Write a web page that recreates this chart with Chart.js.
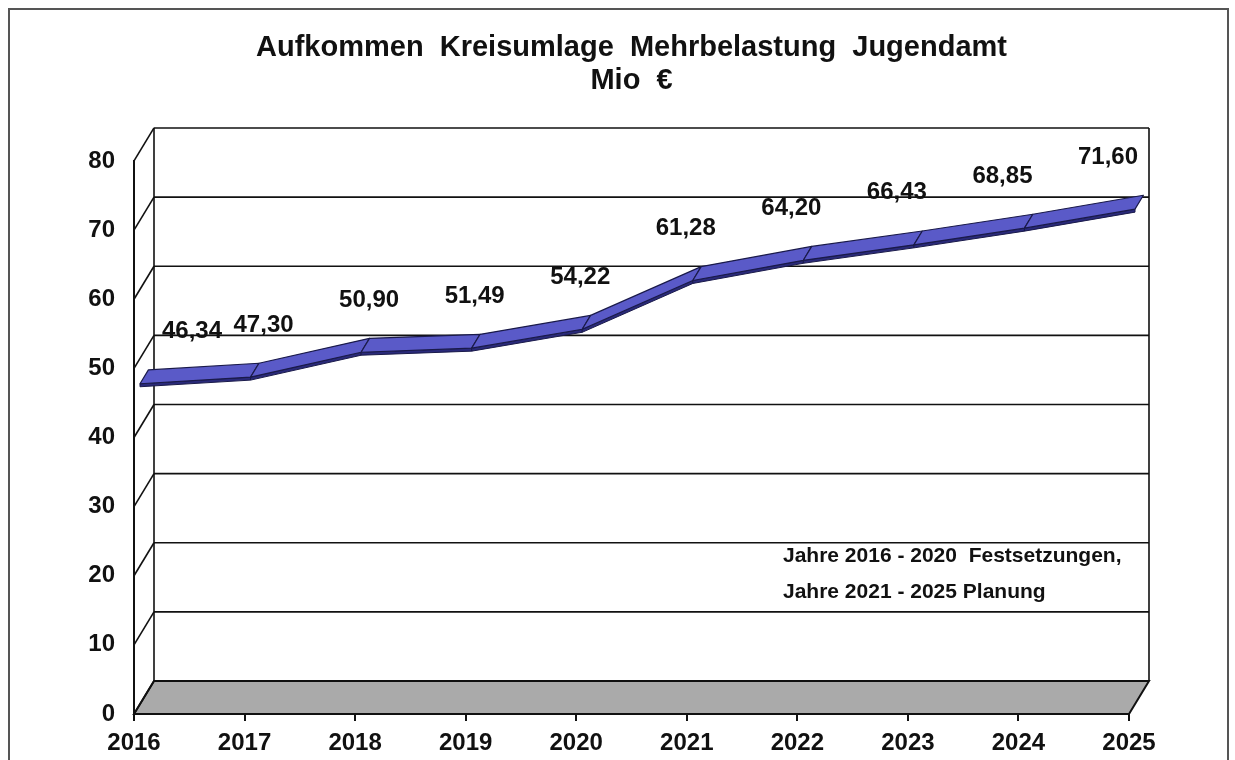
<!DOCTYPE html>
<html>
<head>
<meta charset="utf-8">
<script src="https://cdn.jsdelivr.net/npm/chart.js@4.4.1/dist/chart.umd.min.js"></script>
<style>
  html, body { margin: 0; padding: 0; background: #fff; }
  #wrap { width: 1235px; height: 760px; position: relative; }
</style>
</head>
<body>
<div id="wrap"><canvas id="chart1" width="1235" height="760"></canvas></div>
<script>
// Daten
const years = ['2016', '2017', '2018', '2019', '2020', '2021', '2022', '2023', '2024', '2025'];
const values = [46.34, 47.30, 50.90, 51.49, 54.22, 61.28, 64.20, 66.43, 68.85, 71.60];
const titleLines = ['Aufkommen  Kreisumlage  Mehrbelastung  Jugendamt', 'Mio  €'];
const noteLines = ['Jahre 2016 - 2020  Festsetzungen,', 'Jahre 2021 - 2025 Planung'];
const yMin = 0, yMax = 80, yStep = 10;

const FONT = "'Liberation Sans', Arial, sans-serif";
// 3D-Tiefe (Versatz der Rückwand)
const DX = 20, DY = -33;

const threeD = {
  id: 'threeD',
  beforeDraw(chart) {
    const ctx = chart.ctx;
    const a = chart.chartArea;
    const ys = chart.scales.y;
    ctx.save();
    // Rahmen
    ctx.strokeStyle = '#555';
    ctx.lineWidth = 2;
    ctx.strokeRect(9, 9, 1219, 800);

    // Boden
    ctx.fillStyle = '#aaaaaa';
    ctx.beginPath();
    ctx.moveTo(a.left, a.bottom);
    ctx.lineTo(a.right, a.bottom);
    ctx.lineTo(a.right + DX, a.bottom + DY);
    ctx.lineTo(a.left + DX, a.bottom + DY);
    ctx.closePath();
    ctx.fill();
    ctx.strokeStyle = '#111';
    ctx.lineWidth = 2;
    ctx.stroke();

    // Rückwand + Gitterlinien + Seitenwand
    ctx.lineWidth = 1.6;
    ctx.strokeStyle = '#111';
    for (let v = yMin; v <= yMax; v += yStep) {
      const y = ys.getPixelForValue(v);
      ctx.beginPath();
      ctx.moveTo(a.left + DX, y + DY);
      ctx.lineTo(a.right + DX, y + DY);
      ctx.stroke();
      ctx.beginPath();
      ctx.moveTo(a.left, y);
      ctx.lineTo(a.left + DX, y + DY);
      ctx.stroke();
    }
    ctx.beginPath();
    ctx.moveTo(a.left + DX, a.top + DY);
    ctx.lineTo(a.left + DX, a.bottom + DY);
    ctx.moveTo(a.right + DX, a.top + DY);
    ctx.lineTo(a.right + DX, a.bottom + DY);
    ctx.stroke();

    // Hinweistext
    ctx.fillStyle = '#111';
    ctx.font = 'bold 21px ' + FONT;
    ctx.textAlign = 'left';
    ctx.textBaseline = 'middle';
    ctx.fillText(noteLines[0], 783, 556);
    ctx.fillText(noteLines[1], 783, 592);
    ctx.restore();
  },
  afterDatasetsDraw(chart) {
    const ctx = chart.ctx;
    const a = chart.chartArea;
    const pts = chart.getDatasetMeta(0).data;
    const f = (p, t) => ({ x: p.x + DX * t, y: p.y + DY * t });
    const T1 = 0.3, T2 = 0.72, TH = 3;
    ctx.save();
    ctx.lineJoin = 'round';
    for (let i = 0; i < pts.length - 1; i++) {
      const a1 = f(pts[i], T1), b1 = f(pts[i + 1], T1);
      const a2 = f(pts[i], T2), b2 = f(pts[i + 1], T2);
      // Vorderkante
      ctx.beginPath();
      ctx.moveTo(a1.x, a1.y);
      ctx.lineTo(b1.x, b1.y);
      ctx.lineTo(b1.x, b1.y + TH);
      ctx.lineTo(a1.x, a1.y + TH);
      ctx.closePath();
      ctx.fillStyle = '#2a2a7a';
      ctx.fill();
      ctx.strokeStyle = '#1a1a4a';
      ctx.lineWidth = 1;
      ctx.stroke();
      // Oberseite
      ctx.beginPath();
      ctx.moveTo(a1.x, a1.y);
      ctx.lineTo(b1.x, b1.y);
      ctx.lineTo(b2.x, b2.y);
      ctx.lineTo(a2.x, a2.y);
      ctx.closePath();
      ctx.fillStyle = '#5a5ac8';
      ctx.fill();
      ctx.strokeStyle = '#1a1a4a';
      ctx.lineWidth = 1.2;
      ctx.stroke();
    }
    // Datenbeschriftungen (innerhalb der Rückwand gehalten)
    ctx.fillStyle = '#111';
    ctx.font = 'bold 24px ' + FONT;
    ctx.textAlign = 'center';
    ctx.textBaseline = 'middle';
    pts.forEach((p, i) => {
      const txt = values[i].toFixed(2).replace('.', ',');
      const w = ctx.measureText(txt).width;
      let lx = p.x + 24 - 5 * i;
      lx = Math.max(lx, a.left + DX + 8 + w / 2);
      lx = Math.min(lx, a.right + DX - 6 - w / 2);
      ctx.fillText(txt, lx, p.y - 62);
    });
    ctx.restore();
  }
};

const ctx = document.getElementById('chart1').getContext('2d');
const chart = new Chart(ctx, {
  type: 'line',
  data: {
    labels: years,
    datasets: [{
      label: 'Mehrbelastung Jugendamt',
      data: values,
      showLine: false,
      pointRadius: 0,
      borderWidth: 0
    }]
  },
  options: {
    responsive: false,
    animation: false,
    layout: { padding: { left: 0, right: 106, top: 0, bottom: 0 } },
    plugins: {
      legend: { display: false },
      tooltip: { enabled: false },
      title: {
        display: true,
        fullSize: false,
        text: titleLines,
        color: '#111',
        font: { family: FONT, size: 29, weight: 'bold', lineHeight: 1.12 },
        padding: { top: 32, bottom: 64 }
      }
    },
    scales: {
      x: {
        type: 'category',
        offset: false,
        afterFit: (s) => { s.height = 46; },
        grid: { drawOnChartArea: false, drawTicks: true, tickLength: 7, color: '#111', lineWidth: 2 },
        border: { display: true, color: '#111', width: 2 },
        ticks: { color: '#111', padding: 8, maxRotation: 0, font: { family: FONT, size: 24, weight: 'bold' } }
      },
      y: {
        min: yMin,
        max: yMax,
        afterFit: (s) => { s.width = 134; },
        grid: { drawOnChartArea: false, drawTicks: false },
        border: { display: true, color: '#111', width: 2 },
        ticks: { stepSize: yStep, color: '#111', padding: 19, font: { family: FONT, size: 24, weight: 'bold' } }
      }
    }
  },
  plugins: [threeD]
});
</script>
</body>
</html>
